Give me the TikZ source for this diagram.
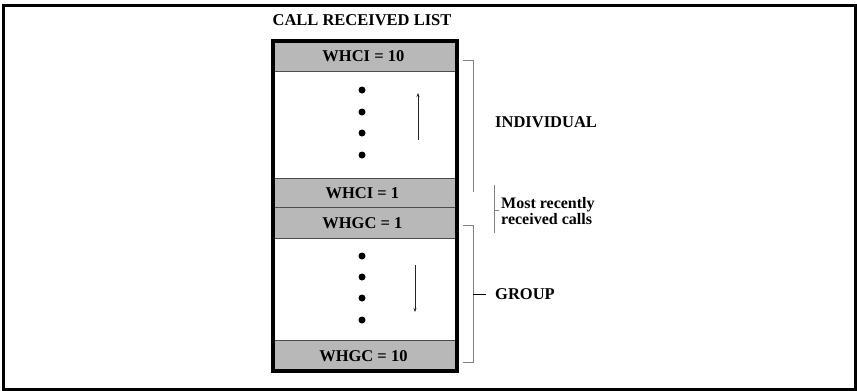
\documentclass[tikz,border=0pt]{standalone}
\usepackage{fontspec}
\setmainfont{Liberation Serif}
\usetikzlibrary{arrows.meta}
\definecolor{bandgray}{RGB}{184,184,184}
\definecolor{brgray}{RGB}{130,130,130}
\tikzset{
  lbl/.style={font=\fontsize{16.5}{16}\selectfont\bfseries, inner sep=0pt},
  band/.style={draw=black!70, line width=0.8pt, fill=bandgray, minimum width=184pt, inner sep=0pt, anchor=north west},
  blob/.style={circle, fill=black, minimum size=7pt, inner sep=0pt},
  brk/.style={draw=brgray, line width=1pt},
  flow/.style={-{Stealth[length=4pt,width=3pt]}, line width=0.7pt, draw=black!85}
}
\begin{document}
\begin{tikzpicture}[x=1pt,y=-1pt]
\useasboundingbox (0,0) rectangle (857,391);
\draw[line width=3pt] (3,5.5) rectangle (855,389);
\node[lbl] (title) at (362,20.5) {CALL RECEIVED LIST};
% bands
\node[band, minimum height=30pt] (b1) at (273,41) {};
\node[lbl, xshift=-2pt] (t1) at (b1.center) {WHCI = 10};
\node[band, minimum height=29pt] (b2) at (273,178) {};
\node[lbl, xshift=-3pt] (t2) at (b2.center) {WHCI = 1};
\node[band, minimum height=31pt] (b3) at (273,207) {};
\node[lbl, xshift=-3pt] (t3) at (b3.center) {WHGC = 1};
\node[band, minimum height=31pt] (b4) at (273,340) {};
\node[lbl, xshift=-2pt] (t4) at (b4.center) {WHGC = 10};
% outer list box
\draw[line width=3.5pt] (273,41) rectangle (457,371);
% dots
\foreach \y/\n in {90/a,112/b,133/c,155/d} \node[blob] (u\n) at (362,\y) {};
\foreach \y/\n in {256/a,277/b,298/c,320/d} \node[blob] (l\n) at (362,\y) {};
% arrows
\coordinate (ua0) at (418,140); \coordinate (ua1) at (418,93);
\draw[flow] (ua0) -- (ua1);
\coordinate (da0) at (415,265); \coordinate (da1) at (415,312);
\draw[flow] (da0) -- (da1);
% brackets
\coordinate (i0) at (463,60); \coordinate (i1) at (473,60); \coordinate (i2) at (473,192);
\draw[brk] (i0) -- (i1) -- (i2);
\coordinate (g0) at (463,225); \coordinate (g1) at (473,225); \coordinate (g2) at (473,362); \coordinate (g3) at (463,362);
\draw[brk] (g0) -- (g1) -- (g2) -- (g3);
\node[lbl, anchor=west] (grp) at (495,294) {GROUP};
\coordinate (gm) at (473,294);
\draw[line width=1pt] (gm) -- (486,294);
\node[lbl, anchor=west] (ind) at (495,122) {INDIVIDUAL};
\coordinate (m0) at (494,185); \coordinate (m1) at (494,233); \coordinate (mm) at (494,210);
\draw[brk] (m0) -- (m1);
\draw[brk] (mm) -- (499,210);
\node[lbl, anchor=west, align=left, font=\fontsize{16}{16}\selectfont\bfseries] (recent) at (501,211) {Most recently\\received calls};
\end{tikzpicture}
\end{document}
